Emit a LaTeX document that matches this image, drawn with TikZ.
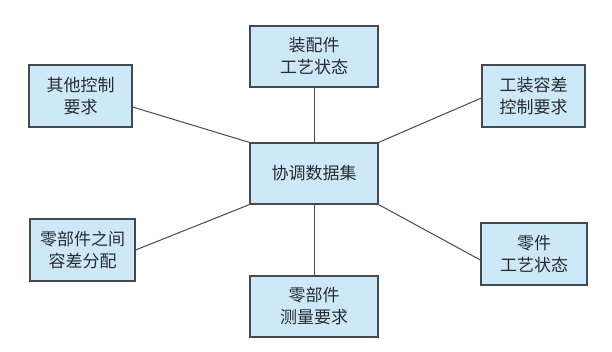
\documentclass[tikz,border=0pt]{standalone}
\usepackage{fontspec}
\newfontfamily\cjk{Noto Sans CJK SC}
\usepackage{xcolor}
\definecolor{boxblue}{RGB}{205,232,248}
\definecolor{edgegray}{RGB}{70,74,80}
\definecolor{textgray}{RGB}{40,44,50}

\begin{document}
\begin{tikzpicture}[
    x=1pt, y=-1pt,
    box/.style={draw=edgegray, line width=1.2pt, fill=boxblue, align=center, inner sep=0pt,
      font=\cjk\fontsize{17}{22}\selectfont, text=textgray},
    wide/.style={box, minimum width=128pt, minimum height=61pt},
    side/.style={box, minimum width=103pt, minimum height=62pt},
    link/.style={draw=edgegray, line width=1pt}
  ]
    \useasboundingbox (0,0) rectangle (612,352);
    \node[wide] (hub) at (314,173.5) {协调数据集};
    \node[wide] (asm) at (314,56.5) {装配件\\工艺状态};
    \node[side] (other) at (80.5,96) {其他控制\\要求};
    \node[side] (tool) at (533.5,96) {工装容差\\控制要求};
    \node[side, minimum width=105pt] (alloc) at (82.5,250) {零部件之间\\容差分配};
    \node[side, minimum width=106pt] (part) at (534,254) {零件\\工艺状态};
    \node[wide] (meas) at (314,306.5) {零部件\\测量要求};

    \draw[link] (hub.north) -- (asm.south);
    \draw[link] (hub.north west) -- ([yshift=-11pt]other.east);
    \draw[link] (hub.north east) -- ([yshift=-2pt]tool.west);
    \draw[link] (hub.south west) -- (alloc.east);
    \draw[link] (hub.south east) -- ([yshift=-6pt]part.west);
    \draw[link] (hub.south) -- (meas.north);
  \end{tikzpicture}
\end{document}
